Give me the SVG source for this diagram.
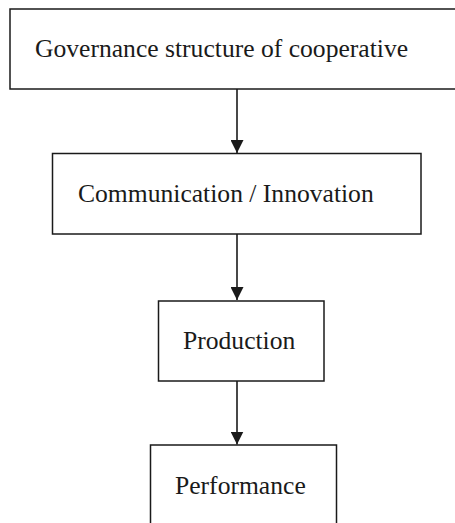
<svg xmlns="http://www.w3.org/2000/svg" width="455" height="523" viewBox="0 0 455 523">
<style>
.box{fill:#fff;stroke:#1a1a1a;stroke-width:1.5}
.lbl{font-family:"Liberation Serif","Times New Roman",serif;font-size:25.6px;fill:#1a1a1a}
.conn{stroke:#1a1a1a;stroke-width:1.6;fill:none}
.head{fill:#1a1a1a}
</style>
<defs>
<marker id="arr" markerWidth="13" markerHeight="13" refX="13" refY="6.5" orient="auto" markerUnits="userSpaceOnUse">
<path class="head" d="M0,0 L13,6.5 L0,13 Z"/>
</marker>
</defs>
<rect width="455" height="523" fill="#fff"/>
<g id="connectors">
<line class="conn" x1="237" y1="89" x2="237" y2="153" marker-end="url(#arr)"/>
<line class="conn" x1="237" y1="234" x2="237" y2="300" marker-end="url(#arr)"/>
<line class="conn" x1="237" y1="381" x2="237" y2="444.5" marker-end="url(#arr)"/>
</g>
<g id="governance">
<rect class="box" x="10" y="9" width="460" height="80"/>
<text class="lbl" x="35" y="57">Governance structure of cooperative</text>
</g>
<g id="communication">
<rect class="box" x="52.5" y="153.5" width="368.5" height="80.5"/>
<text class="lbl" x="78" y="202">Communication / Innovation</text>
</g>
<g id="production">
<rect class="box" x="158.5" y="301" width="165.5" height="80"/>
<text class="lbl" x="183" y="349">Production</text>
</g>
<g id="performance">
<rect class="box" x="150.5" y="445" width="186" height="100"/>
<text class="lbl" x="175" y="494">Performance</text>
</g>
</svg>
